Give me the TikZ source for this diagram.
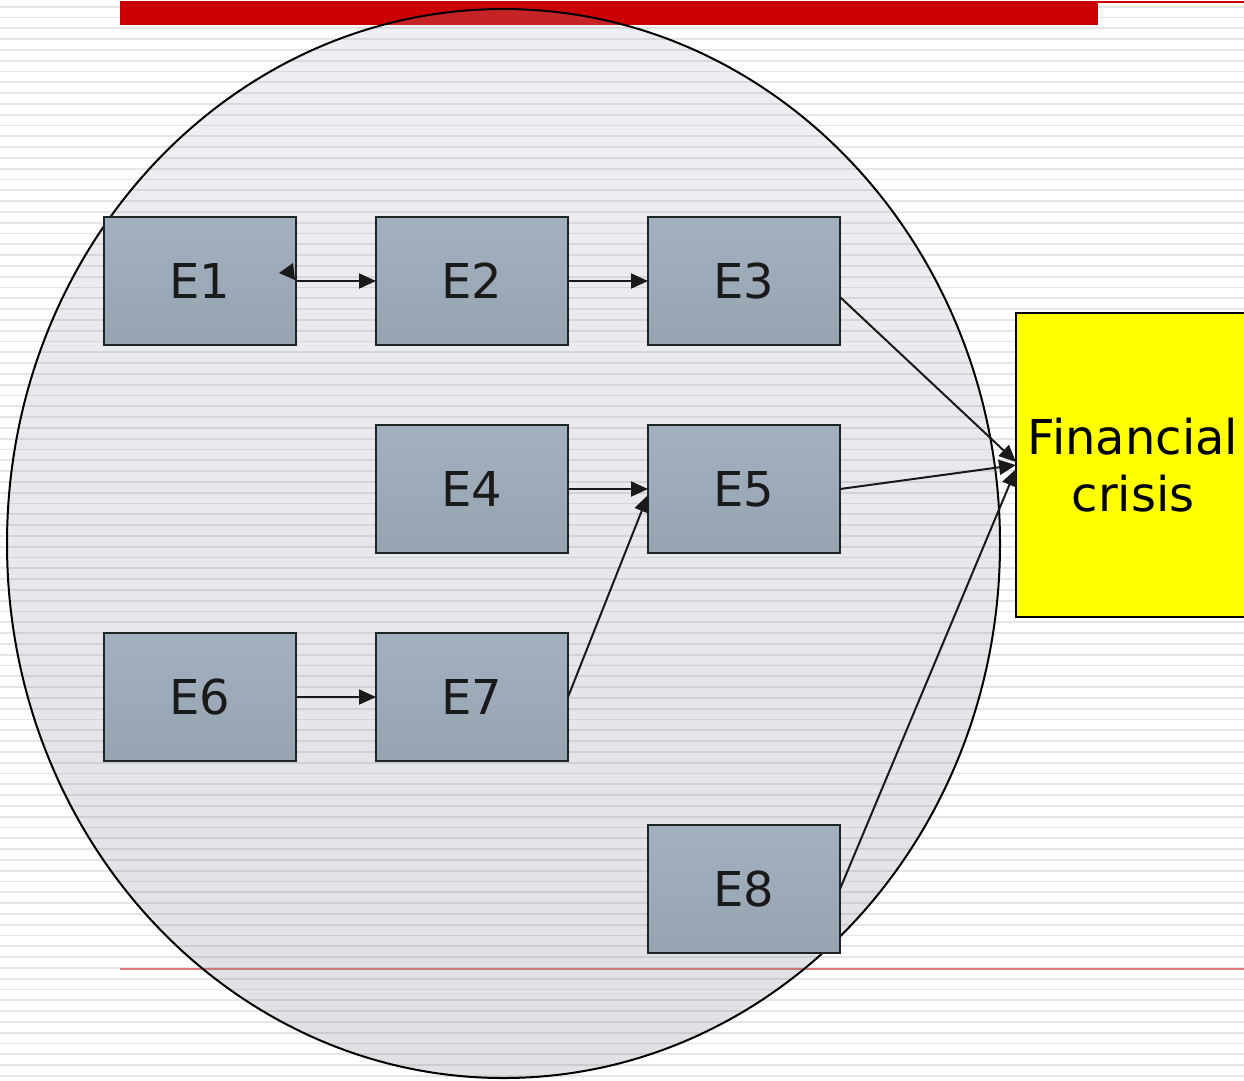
\documentclass[tikz,border=0pt]{standalone}
\usepackage{fontspec}
\setmainfont{DejaVu Sans}
\usetikzlibrary{arrows.meta,calc}
\definecolor{redbar}{HTML}{CC0000}
\definecolor{redline}{HTML}{E07A7A}
\definecolor{stripegray}{HTML}{E5E5E5}
\definecolor{boxtop}{HTML}{A2B0BF}
\definecolor{boxbot}{HTML}{96A4B2}
\definecolor{boxedge}{HTML}{1E2326}
\definecolor{ink}{HTML}{1A1A1A}
\definecolor{elltop}{HTML}{AAB4C3}
\definecolor{ellbot}{HTML}{646978}
\definecolor{fcyellow}{HTML}{FFFF00}
\tikzset{
  stripe/.style={draw=stripegray, line width=1.9pt},
  ebox/.style={draw=boxedge, line width=2.8pt, top color=boxtop, bottom color=boxbot,
    minimum width=192pt, minimum height=128pt, inner sep=0pt, outer sep=0pt,
    text=ink, font=\fontsize{48}{57}\selectfont},
  fcbox/.style={draw=black, line width=2.8pt, fill=fcyellow, minimum width=234pt,
    minimum height=304pt, inner sep=0pt, outer sep=0pt, text=black, align=center,
    font=\fontsize{48}{57}\selectfont},
  conn/.style={draw=ink, line width=2pt, -{Triangle[length=17pt,width=15pt]}},
}
\begin{document}
\begin{tikzpicture}[x=1pt,y=-1pt]
\useasboundingbox (0,0) rectangle (1244,1080);
\fill[white] (0,0) rectangle (1244,1080);
\foreach \k in {0,...,99} {
  \draw[stripe] (0,{6.7+10.8*\k}) -- (1244,{6.7+10.8*\k});
}
\fill[redbar] (120,1) rectangle (1098,25);
\draw[redbar, line width=2pt] (1098,2) -- (1244,2);
\draw[redline, line width=1.6pt] (120,969) -- (1244,969);
\shade[top color=elltop, bottom color=ellbot, fill opacity=0.2]
  (503.5,543.5) ellipse [x radius=496.5, y radius=534.5];
\draw[black, line width=2pt] (503.5,543.5) ellipse [x radius=496.5, y radius=534.5];

\node[ebox] (E1) at (200,281) {E1};
\node[ebox] (E2) at (472,281) {E2};
\node[ebox] (E3) at (744,281) {E3};
\node[ebox] (E4) at (472,489) {E4};
\node[ebox] (E5) at (744,489) {E5};
\node[ebox] (E6) at (200,697) {E6};
\node[ebox] (E7) at (472,697) {E7};
\node[ebox] (E8) at (744,889) {E8};
\node[fcbox] (FC) at (1133,465) {Financial\\crisis};

\draw[conn] (E1.east) -- (E2.west);
\fill[ink] ($(E1.east)+(-1,-1)$) -- ($(E1.east)+(-17,-8)$) -- ($(E1.east)+(-3,-18)$) -- cycle;
\draw[conn] (E2.east) -- (E3.west);
\draw[conn] (E4.east) -- (E5.west);
\draw[conn] (E6.east) -- (E7.west);
\draw[conn] (E7.east) -- ($(E5.west)+(0,6)$);
\draw[conn] ($(E3.east)+(0,16)$) -- ($(FC.west)+(0,-3)$);
\draw[conn] (E5.east) -- (FC.west);
\draw[conn] (E8.east) -- ($(FC.west)+(0,4)$);
\end{tikzpicture}
\end{document}
